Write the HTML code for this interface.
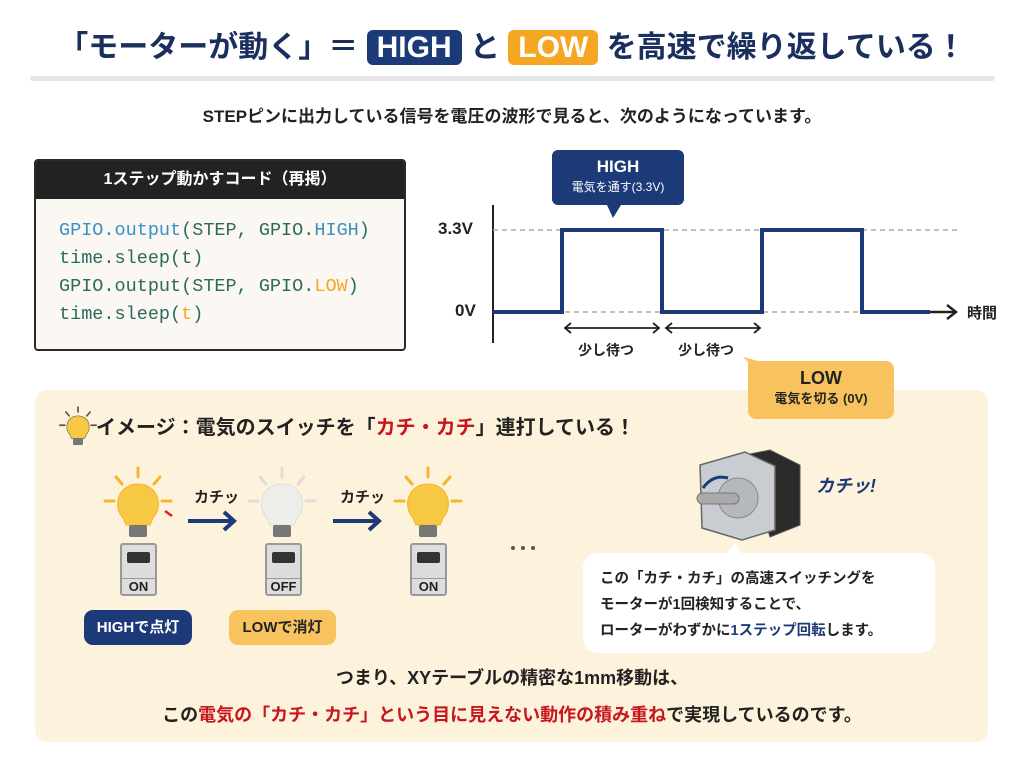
<!DOCTYPE html>
<html><head><meta charset="utf-8"><style>
*{margin:0;padding:0;box-sizing:border-box}
body{width:1024px;height:768px;background:#fff;position:relative;overflow:hidden;font-family:"Liberation Sans","Noto Sans CJK JP",sans-serif;color:#222}
.a{position:absolute}
.b{font-weight:bold}
.mono{font-family:"Liberation Mono","DejaVu Sans Mono",monospace}
</style></head><body>
<div class="a" style="left:35px;top:390px;width:953px;height:352px;background:#fdf3dc;border-radius:12px"></div>
<div class="a b" style="left:0;width:1024px;top:28px;text-align:center;font-size:30px;color:#1b2f5e;line-height:40px;white-space:nowrap">「モーターが動く」＝ <span style="background:#1d3a78;color:#fff;border-radius:6px;padding:1px 10px">HIGH</span> と <span style="background:#f5a623;color:#fff;border-radius:6px;padding:1px 10px">LOW</span> を高速で繰り返している！</div>
<div class="a" style="left:30px;top:76px;width:965px;height:5px;background:#e6e6e6;border-radius:3px"></div>
<div class="a b" style="left:0;width:1024px;top:102px;text-align:center;font-size:17px">STEPピンに出力している信号を電圧の波形で見ると、次のようになっています。</div>

<div class="a" style="left:34px;top:159px;width:372px;height:192px;border:2px solid #2a2a2a;border-radius:4px;background:#fbf8f3;overflow:hidden">
<div class="b" style="height:38px;background:#222;color:#fff;text-align:center;font-size:16px;line-height:38px">1ステップ動かすコード（再掲）</div>
<div class="mono" style="padding:18px 0 0 23px;font-size:18.5px;line-height:28px;color:#2a6b5f">
<div><span style="color:#3a8fc4">GPIO.output</span>(STEP, GPIO.<span style="color:#3a8fc4">HIGH</span>)</div>
<div>time.sleep(t)</div>
<div>GPIO.output(STEP, GPIO.<span style="color:#f5a623">LOW</span>)</div>
<div>time.sleep(<span style="color:#f5a623">t</span>)</div>
</div></div>

<svg class="a" style="left:0;top:0" width="1024" height="768">
<line x1="493" y1="205" x2="493" y2="343" stroke="#222" stroke-width="2"/>
<line x1="493" y1="230" x2="960" y2="230" stroke="#aaa" stroke-width="1.5" stroke-dasharray="5,4"/>
<line x1="493" y1="312" x2="930" y2="312" stroke="#aaa" stroke-width="1.5" stroke-dasharray="5,4"/>
<polyline points="493,312 562,312 562,230 662,230 662,312 762,312 762,230 862,230 862,312 930,312" fill="none" stroke="#1d3a78" stroke-width="4"/>
<line x1="930" y1="312" x2="955" y2="312" stroke="#222" stroke-width="2.5"/>
<polyline points="947,305 956,312 947,319" fill="none" stroke="#222" stroke-width="2.5"/>
<g stroke="#222" stroke-width="1.8" fill="none">
<line x1="565" y1="328" x2="659" y2="328"/><polyline points="571,323 565,328 571,333"/><polyline points="653,323 659,328 653,333"/>
<line x1="666" y1="328" x2="760" y2="328"/><polyline points="672,323 666,328 672,333"/><polyline points="754,323 760,328 754,333"/>
</g>
<path d="M558,150 h120 a6,6 0 0 1 6,6 v43 a6,6 0 0 1 -6,6 h-57 l-8,13 l-6,-13 h-49 a6,6 0 0 1 -6,-6 v-43 a6,6 0 0 1 6,-6z" fill="#1d3a78"/>
<path d="M748,362 l-5,-5 l15,4 h128 a8,8 0 0 1 8,8 v42 a8,8 0 0 1 -8,8 h-130 a8,8 0 0 1 -8,-8z" fill="#f8c35f"/>
</svg>
<div class="a b" style="left:438px;top:219px;font-size:17px">3.3V</div>
<div class="a b" style="left:455px;top:301px;font-size:17px">0V</div>
<div class="a b" style="left:967px;top:302px;font-size:15px">時間</div>
<div class="a b" style="left:578px;top:340px;font-size:14px">少し待つ</div>
<div class="a b" style="left:678px;top:340px;font-size:14px">少し待つ</div>
<div class="a b" style="left:552px;top:156px;width:132px;text-align:center;color:#fff;font-size:17px;line-height:22px">HIGH<div style="font-size:12px;font-weight:normal;line-height:18px">電気を通す(3.3V)</div></div>

<div class="a b" style="left:748px;top:366px;width:146px;text-align:center;font-size:18px;line-height:24px;color:#222">LOW<div style="font-size:13px;line-height:18px">電気を切る (0V)</div></div>
<svg class="a" style="left:0;top:0" width="1024" height="768">
<defs><g id="bulb"><g stroke-width="3" stroke-linecap="round"><line x1="0" y1="-38" x2="0" y2="-29"/><line x1="-22" y1="-29" x2="-16" y2="-22"/><line x1="22" y1="-29" x2="16" y2="-22"/><line x1="-33" y1="-5" x2="-24" y2="-5"/><line x1="33" y1="-5" x2="24" y2="-5"/></g>
<path d="M-15,12 C-26,0 -20,-22 0,-22 C20,-22 26,0 15,12 L12,19 H-12 Z"/>
<rect x="-9" y="19" width="18" height="12" rx="2" fill="#777" stroke="none"/></g></defs>
<g transform="translate(138,506)" fill="#f7c844" stroke="#f5b52e"><use href="#bulb"/></g>
<line x1="165" y1="511" x2="172" y2="516" stroke="#d22" stroke-width="2.5"/>
<g transform="translate(282,506)" fill="#eeeeea" stroke="#ddd"><use href="#bulb"/></g>
<g transform="translate(428,506)" fill="#f7c844" stroke="#f5b52e"><use href="#bulb"/></g>
<g transform="translate(78,428) scale(0.55)" fill="#f7c844" stroke="#555"><use href="#bulb"/></g>
<g stroke="#1d3a78" stroke-width="4" fill="none"><line x1="188" y1="521" x2="232" y2="521"/><polyline points="224,512 234,521 224,530"/>
<line x1="333" y1="521" x2="377" y2="521"/><polyline points="369,512 379,521 369,530"/></g>
<g fill="#555"><circle cx="513" cy="548" r="2"/><circle cx="523" cy="548" r="2"/><circle cx="533" cy="548" r="2"/></g>
<path d="M745,455 L770,450 L800,465 L800,525 L770,537Z" fill="#2b2b2b" stroke="#555"/>
<path d="M700,465 L745,452 L775,466 L775,530 L742,540 L702,528Z" fill="#c9ccd0" stroke="#666" stroke-width="1.5"/>
<circle cx="738" cy="498" r="20" fill="#b5b8bc" stroke="#888"/>
<rect x="697" y="493" width="42" height="11" rx="5.5" fill="#aaa" stroke="#777"/>
<path d="M703,488 q10,-14 25,-10" stroke="#1d3a78" stroke-width="3" fill="none"/>
<path d="M597,553 h130 l8,-10 l6,10 h180 a14,14 0 0 1 14,14 v72 a14,14 0 0 1 -14,14 h-324 a14,14 0 0 1 -14,-14 v-72 a14,14 0 0 1 14,-14z" fill="#fff"/>
</svg>
<div class="a b" style="left:96px;top:411px;font-size:20px">イメージ：電気のスイッチを「<span style="color:#c8161d">カチ・カチ</span>」連打している！</div>
<div class="a b" style="left:194px;top:486px;font-size:15px">カチッ</div>
<div class="a b" style="left:340px;top:486px;font-size:15px">カチッ</div>
<div class="a b" style="left:816px;top:472px;font-size:18px;color:#1d3a78;font-style:italic">カチッ!</div>

<div class="a" style="left:120px;top:543px;width:37px;height:53px;background:#ddd;border:2px solid #999;border-radius:3px"><div style="margin:7px 5px;height:11px;background:#333;border-radius:2px"></div><div class="b" style="position:absolute;bottom:0;width:100%;text-align:center;font-size:13px;border-top:1px solid #999">ON</div></div>
<div class="a" style="left:265px;top:543px;width:37px;height:53px;background:#ddd;border:2px solid #999;border-radius:3px"><div style="margin:7px 5px;height:11px;background:#333;border-radius:2px"></div><div class="b" style="position:absolute;bottom:0;width:100%;text-align:center;font-size:13px;border-top:1px solid #999">OFF</div></div>
<div class="a" style="left:410px;top:543px;width:37px;height:53px;background:#ddd;border:2px solid #999;border-radius:3px"><div style="margin:7px 5px;height:11px;background:#333;border-radius:2px"></div><div class="b" style="position:absolute;bottom:0;width:100%;text-align:center;font-size:13px;border-top:1px solid #999">ON</div></div>

<div class="a b" style="left:84px;top:610px;width:108px;height:35px;background:#1d3a78;color:#fff;border-radius:9px;text-align:center;line-height:35px;font-size:15px">HIGHで点灯</div>
<div class="a b" style="left:229px;top:610px;width:107px;height:35px;background:#f8c35f;color:#222;border-radius:9px;text-align:center;line-height:35px;font-size:15px">LOWで消灯</div>

<div class="a b" style="left:600px;top:566px;font-size:14.5px;line-height:26px">この「カチ・カチ」の高速スイッチングを<br>モーターが1回検知することで、<br>ローターがわずかに<span style="color:#1d3a78">1ステップ回転</span>します。</div>

<div class="a b" style="left:0;width:1024px;top:660px;text-align:center;font-size:18px;line-height:37px">つまり、XYテーブルの精密な1mm移動は、<br>この<span style="color:#c8161d">電気の「カチ・カチ」という目に見えない動作の積み重ね</span>で実現しているのです。</div>
</body></html>
